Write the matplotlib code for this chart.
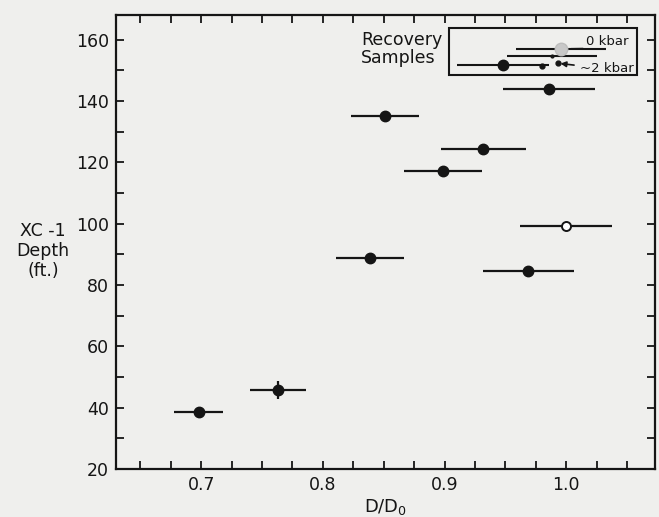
import numpy as np
import matplotlib
matplotlib.use("Agg")
import matplotlib.pyplot as plt
from matplotlib.ticker import MultipleLocator
from matplotlib.patches import Rectangle

# XC-1 samples: D/D0 vs depth (ft)
dd0 = [0.698, 0.763, 0.839, 0.969, 0.899, 0.932, 0.851, 0.986]
depth = [38.5, 45.8, 88.9, 84.7, 117.3, 124.2, 135.2, 143.9]
dd0_err = [0.020, 0.023, 0.028, 0.037, 0.032, 0.035, 0.028, 0.038]
depth_err = [0, 3.0, 0, 0, 0, 0, 0, 0]

# open-circle sample
open_dd0 = [1.000]
open_depth = [99.2]
open_err = [0.038]

# recovery samples (inside the box)
rec_dd0 = [0.996, 0.988, 0.948]
rec_depth = [157.0, 154.8, 151.8]
rec_err = [0.037, 0.037, 0.038]
rec_small_dd0 = [0.980, 0.993]
rec_small_depth = [151.5, 152.3]

ink = "#151515"
paper = "#efefed"

plt.rcParams["font.family"] = "DejaVu Sans"
fig = plt.figure(figsize=(6.59, 5.17), dpi=100, facecolor=paper)
ax = fig.add_axes([0.176, 0.0928, 0.818, 0.878], facecolor=paper)

ax.errorbar(dd0, depth, xerr=dd0_err, yerr=depth_err, fmt="o", color=ink,
            ms=7.5, elinewidth=1.6, capsize=0)
ax.errorbar(open_dd0, open_depth, xerr=open_err, fmt="o", color=ink, mfc="white",
            mec=ink, mew=1.4, ms=6.5, elinewidth=1.6, capsize=0)

# recovery samples
ax.errorbar(rec_dd0[0:1], rec_depth[0:1], xerr=rec_err[0:1], fmt="o", color=ink,
            mfc="#c8c8c8", mec="#bdbdbd", ms=9, elinewidth=1.5, capsize=0)
ax.errorbar(rec_dd0[1:2], rec_depth[1:2], xerr=rec_err[1:2], fmt=".", color=ink,
            ms=4, elinewidth=1.5, capsize=0)
ax.errorbar(rec_dd0[2:], rec_depth[2:], xerr=rec_err[2:], fmt="o", color=ink,
            ms=7.5, elinewidth=1.5, capsize=0)
ax.plot(rec_small_dd0, rec_small_depth, "o", color=ink, ms=3.5)

ax.add_patch(Rectangle((0.618, 0.868), 0.349, 0.103, transform=ax.transAxes,
                       fill=False, ec=ink, lw=1.5))
ax.text(0.455, 0.925, "Recovery\nSamples", transform=ax.transAxes, ha="left",
        va="center", fontsize=12.5, color=ink, linespacing=1.05)
ax.annotate("0 kbar", xy=(rec_dd0[0] + 0.008, rec_depth[0]), xytext=(1.016, 157.3),
            fontsize=9.5, color=ink, ha="left", va="bottom",
            arrowprops=dict(arrowstyle="-", color=ink, lw=1.3, relpos=(1, 0),
                            shrinkA=0, shrinkB=0))
ax.annotate("~2 kbar", xy=(rec_small_dd0[1], rec_small_depth[1]),
            xytext=(1.011, 150.5), fontsize=9.5, color=ink, ha="left", va="center",
            arrowprops=dict(arrowstyle="-|>", color=ink, lw=1.2, mutation_scale=8))

ax.set_xlim(0.630, 1.073)
ax.set_ylim(20, 168)
ax.xaxis.set_major_locator(MultipleLocator(0.1))
ax.xaxis.set_minor_locator(MultipleLocator(0.025))
ax.yaxis.set_major_locator(MultipleLocator(20))
ax.yaxis.set_minor_locator(MultipleLocator(10))
ax.set_xticks([0.7, 0.8, 0.9, 1.0])
ax.set_xticklabels(["0.7", "0.8", "0.9", "1.0"])
ax.tick_params(which="both", direction="in", length=6, width=1.3, top=True,
               right=True, labelsize=12.5, colors=ink, pad=5)
for s in ax.spines.values():
    s.set_linewidth(1.6)
    s.set_color(ink)

ax.set_xlabel("D/D$_0$", fontsize=13, color=ink, labelpad=2)
ax.text(-0.135, 0.48, "XC -1\nDepth\n(ft.)", transform=ax.transAxes, ha="center",
        va="center", fontsize=12.5, color=ink, linespacing=1.15)

plt.savefig("out.png", dpi=100, facecolor=paper)
